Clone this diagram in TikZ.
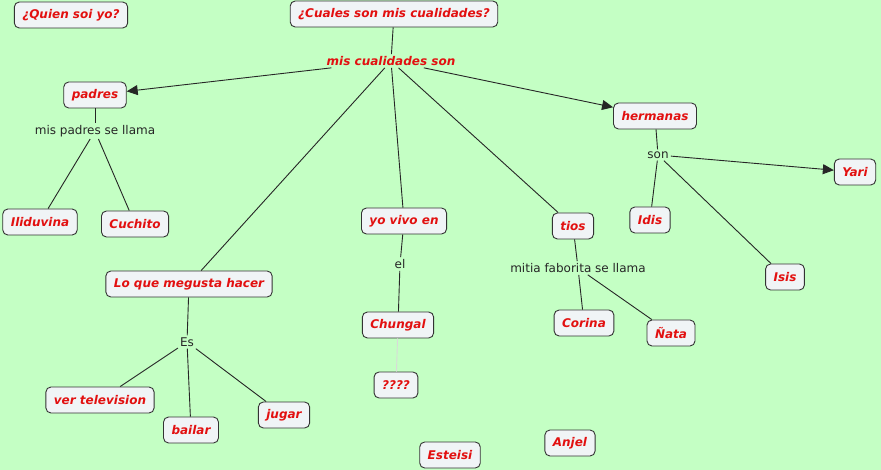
\documentclass[tikz,border=0pt]{standalone}
\usepackage{fontspec}
\setmainfont{DejaVu Sans}
\usetikzlibrary{arrows.meta}
\definecolor{mapbg}{RGB}{196,255,196}
\definecolor{boxfill}{RGB}{240,244,246}
\definecolor{conceptred}{RGB}{226,16,16}
\tikzset{
  concept/.style={draw=black!80, fill=boxfill, rounded corners=5pt, line width=0.9pt,
    inner xsep=8pt, minimum height=26pt, text=conceptred,
    font=\fontsize{12}{14}\selectfont\bfseries\itshape},
  linkred/.style={text=conceptred, inner sep=2pt, font=\fontsize{12}{14}\selectfont\bfseries\itshape},
  linkword/.style={text=black!85, inner sep=2pt, font=\fontsize{12}{14}\selectfont},
  link/.style={draw=black!85, line width=0.9pt},
  linkto/.style={link, -{Triangle[length=11pt,width=10pt]}}
}
\begin{document}
\begin{tikzpicture}[x=1pt,y=-1pt]
		\fill[mapbg] (0,0) rectangle (881,470);
		\useasboundingbox (0,0) rectangle (881,470);
		% concepts
		\node (quien) at (71,15)[concept] {¿Quien soi yo?};
		\node (cuales) at (394,14)[concept] {¿Cuales son mis cualidades?};
		\node (miscual) at (391,61)[linkred] {mis cualidades son};
		\node (padres) at (95,95)[concept] {padres};
		\node (mispadres) at (95,131)[linkword] {mis padres se llama};
		\node (iliduvina) at (40,222)[concept] {Iliduvina};
		\node (cuchito) at (135,224)[concept] {Cuchito};
		\node (hermanas) at (655,116)[concept] {hermanas};
		\node (son) at (658,155)[linkword] {son};
		\node (yari) at (855,172)[concept] {Yari};
		\node (idis) at (650,220)[concept] {Idis};
		\node (isis) at (785,277)[concept] {Isis};
		\node (vivo) at (404,221)[concept] {yo vivo en};
		\node (el) at (400,264)[linkword] {el};
		\node (chungal) at (398,325)[concept] {Chungal};
		\node (preg) at (396,385)[concept] {????};
		\node (tios) at (573,226)[concept] {tios};
		\node (mitia) at (578,268)[linkword] {mitia faborita se llama};
		\node (corina) at (584,323)[concept] {Corina};
		\node (nata) at (671,333)[concept] {Ñata};
		\node (gusta) at (189,284)[concept] {Lo que megusta hacer};
		\node (es) at (187,342)[linkword] {Es};
		\node (tele) at (100,400)[concept] {ver television};
		\node (bailar) at (191,430)[concept] {bailar};
		\node (jugar) at (284,415)[concept] {jugar};
		\node (esteisi) at (450,455)[concept] {Esteisi};
		\node (anjel) at (570,443)[concept] {Anjel};
		% links
		\draw[link] (cuales) -- (miscual);
		\draw[linkto] (miscual) -- (padres);
		\draw[linkto] (miscual) -- (hermanas);
		\draw[link] (miscual) -- (gusta);
		\draw[link] (miscual) -- (vivo);
		\draw[link] (miscual) -- (tios);
		\draw[link] (padres) -- (mispadres);
		\draw[link] (mispadres) -- (iliduvina);
		\draw[link] (mispadres) -- (cuchito);
		\draw[link] (hermanas) -- (son);
		\draw[linkto] (son) -- (yari);
		\draw[link] (son) -- (idis);
		\draw[link] (son) -- (isis);
		\draw[link] (vivo) -- (el);
		\draw[link] (el) -- (chungal);
		\draw[link, draw=black!15] (chungal) -- (preg);
		\draw[link] (tios) -- (mitia);
		\draw[link] (mitia) -- (corina);
		\draw[link] (mitia) -- (nata);
		\draw[link] (gusta) -- (es);
		\draw[link] (es) -- (tele);
		\draw[link] (es) -- (bailar);
		\draw[link] (es) -- (jugar);
	\end{tikzpicture}
\end{document}
